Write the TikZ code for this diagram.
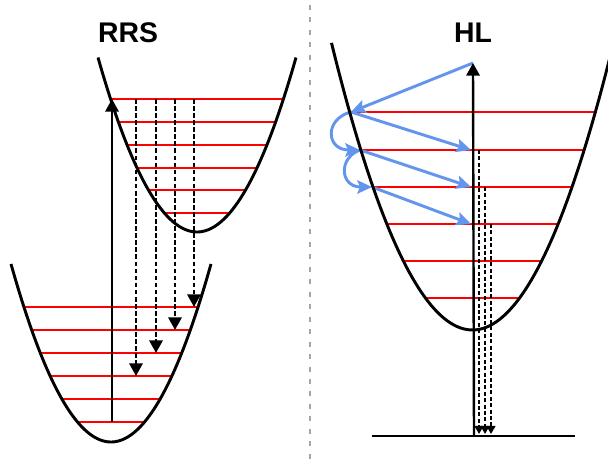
\documentclass[tikz,border=0pt]{standalone}
\usepackage{fontspec}
\setmainfont{Liberation Sans}
\usetikzlibrary{arrows.meta}
\definecolor{bluearr}{RGB}{100,149,237}
\definecolor{divgray}{RGB}{165,165,165}
\begin{document}
\begin{tikzpicture}[x=0.75pt,y=-0.75pt,
  well/.style={line width=2.2pt,line join=round},
  level/.style={red,line width=1.9pt},
  absarrow/.style={line width=1.8pt,-{Triangle[width=10pt,length=9.5pt]}},
  emarrow/.style={line width=1.8pt,dash pattern=on 3.5pt off 1.8pt,-{Triangle[width=10pt,length=9.5pt]}},
  hlarrow/.style={line width=1.6pt,dash pattern=on 3pt off 1.8pt,-{Triangle[width=6.5pt,length=6pt]}},
  relax/.style={bluearr,line width=2.2pt,-{Stealth[width=10pt,length=11pt,inset=2pt]}},
  ttl/.style={font=\bfseries\fontsize{21.3}{25}\selectfont,inner sep=0pt}]
\useasboundingbox (0,0) rectangle (608,466);

% divider
\draw[divgray,line width=1.5pt,dash pattern=on 3.75pt off 5.6pt] (310,5) -- (310,462);

% titles
\node[ttl] (rrs) at (128,33) {RRS};
\node[ttl] (hl) at (473,33) {HL};

% ---------- RRS ----------
\foreach \yy in {99,122,145,168,190,213}{
  \pgfmathsetmacro\dx{sqrt((232-\yy)/0.0178)}
  \draw[level] ({197-\dx},\yy) -- ({197+\dx},\yy);
}
\foreach \yy in {307,330,353,376,399,422}{
  \pgfmathsetmacro\dx{sqrt((442-\yy)/0.0178)}
  \draw[level] ({111-\dx},\yy) -- ({111+\dx},\yy);
}
\draw[well] plot[domain=-99:99,samples=80] ({197+\x},{232-(0.13342*\x)*(0.13342*\x)});
\draw[well] plot[domain=-100:100,samples=80] ({111+\x},{442-(0.13342*\x)*(0.13342*\x)});

\coordinate (a0) at (112,422);
\coordinate (a1) at (112,99);
\draw[absarrow] (a0) -- (a1);

\coordinate (e1s) at (136,99); \coordinate (e1e) at (136,376);
\coordinate (e2s) at (156,99); \coordinate (e2e) at (156,353);
\coordinate (e3s) at (175,99); \coordinate (e3e) at (175,330);
\coordinate (e4s) at (194,99); \coordinate (e4e) at (194,307);
\draw[emarrow] (e1s) -- (e1e);
\draw[emarrow] (e2s) -- (e2e);
\draw[emarrow] (e3s) -- (e3e);
\draw[emarrow] (e4s) -- (e4e);

% ---------- HL ----------
\foreach \yy in {112,150,187,224,261,298}{
  \pgfmathsetmacro\dx{sqrt((330-\yy)/0.01444)}
  \draw[level] ({472.5-\dx},\yy) -- ({472.5+\dx},\yy);
}

\coordinate (top) at (473,63);
\coordinate (p1) at (351,112);
\coordinate (p2) at (360,150);
\coordinate (p3) at (372,187);
\coordinate (q1) at (471,150);
\coordinate (q2) at (471,187);
\coordinate (q3) at (471,224);
\draw[relax] (top) -- (p1);
\draw[relax] (p1) -- (q1);
\draw[relax] (p1) .. controls (324,119) and (326,150) .. (p2);
\draw[relax] (p2) -- (q2);
\draw[relax] (p2) .. controls (338,158) and (340,187) .. (p3);
\draw[relax] (p3) -- (q3);

\draw[well] plot[domain=-141:146,samples=90] ({472.5+\x},{330-(0.12017*\x)*(0.12017*\x)});

\coordinate (g0) at (372,436);
\coordinate (g1) at (575,436);
\draw[line width=2.2pt] (g0) -- (g1);

\coordinate (h0) at (474,436);
\draw[absarrow] (h0) -- (top);

\coordinate (d1s) at (479,150); \coordinate (d1e) at (479,434);
\coordinate (d2s) at (485,187); \coordinate (d2e) at (485,434);
\coordinate (d3s) at (491,224); \coordinate (d3e) at (491,434);
\draw[hlarrow] (d1s) -- (d1e);
\draw[hlarrow] (d2s) -- (d2e);
\draw[hlarrow] (d3s) -- (d3e);
\end{tikzpicture}
\end{document}
